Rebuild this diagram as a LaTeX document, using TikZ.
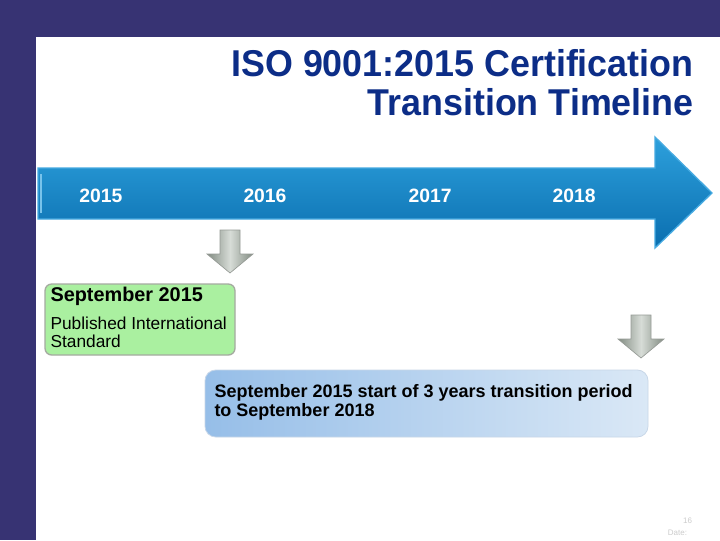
\documentclass[tikz,border=0pt]{standalone}
\usepackage{fontspec}
\setmainfont{Liberation Sans}
\definecolor{framePurple}{RGB}{55,51,115}
\definecolor{titleBlue}{RGB}{12,45,135}
\definecolor{barTop}{RGB}{45,160,220}
\definecolor{barBot}{RGB}{10,110,175}
\definecolor{stepGreen}{RGB}{170,240,160}
\definecolor{boxBlueL}{RGB}{150,190,232}
\definecolor{boxBlueR}{RGB}{218,232,246}
\tikzset{every picture/.style={line width=0.75pt}}
\tikzset{
  year/.style={text=white,font=\bfseries\fontsize{14.5}{16}\selectfont},
  titleline/.style={anchor=base east,inner sep=0pt,text=titleBlue,font=\bfseries\fontsize{28}{30}\selectfont},
  downarrow/.style={draw={rgb,255:red,150;green,155;blue,150},line width=0.5pt,
    left color={rgb,255:red,130;green,140;blue,130},right color={rgb,255:red,130;green,140;blue,130},
    middle color={rgb,255:red,215;green,220;blue,215}}
}

\begin{document}
\begin{tikzpicture}[x=0.75pt,y=0.75pt,yscale=-1,xscale=1]
\useasboundingbox (0,0) rectangle (720,540);

%Shape: Frame
\fill [framePurple] (0,0) rectangle (720,540);
\fill [white] (36,37) rectangle (720,540);

% Text Node
\draw (694,76) node [titleline] (title1) {\scalebox{0.96}[1]{ISO 9001:2015 Certification}};
% Text Node
\draw (694,115) node [titleline] (title2) {\scalebox{0.96}[1]{Transition Timeline}};

%Shape: Timeline Arrow
\draw [draw={rgb,255:red,70;green,170;blue,225},line width=1pt,top color=barTop,bottom color=barBot]
  (38,168) -- (655,168) -- (655,137) -- (712,193) -- (655,248) -- (655,219) -- (38,219) -- cycle ;
\draw [draw={rgb,255:red,120;green,195;blue,235},line width=1pt] (41,174) -- (41,213) ;

% Text Node
\draw (101,196) node [year] (yr2015) {2015};
% Text Node
\draw (265,196) node [year] (yr2016) {2016};
% Text Node
\draw (430,196) node [year] (yr2017) {2017};
% Text Node
\draw (574,196) node [year] (yr2018) {2018};

%Shape: Down Arrow
\draw [downarrow] (220,230) -- (240,230) -- (240,254) -- (253,254) -- (230,273) -- (207,254) -- (220,254) -- cycle ;
%Shape: Down Arrow
\draw [downarrow] (631,315) -- (651,315) -- (651,339) -- (664,339) -- (641,358) -- (618,339) -- (631,339) -- cycle ;

%Shape: Rounded Rect
\draw [draw={rgb,255:red,165;green,170;blue,160},line width=1pt,fill=stepGreen,rounded corners=5] (45,284) rectangle (235,355) ;
% Text Node
\draw (50,296) node [anchor=west,inner sep=0pt,font=\bfseries\fontsize{14.9}{16}\selectfont] (pubHead) {September 2015};
% Text Node
\draw (50,332) node [anchor=west,inner sep=0pt,align=left,font=\fontsize{13}{13.5}\selectfont] (pubText) {Published International\\Standard};

%Shape: Rounded Rect
\draw [draw={rgb,255:red,200;green,215;blue,232},line width=0.6pt,left color=boxBlueL,right color=boxBlueR,rounded corners=8] (205,370) rectangle (648,437) ;
% Text Node
\draw (214,402) node [anchor=west,inner sep=0pt,align=left,font=\bfseries\fontsize{13.5}{14.3}\selectfont] (transText) {September 2015 start of 3 years transition period\\to September 2018};

% Text Node
\draw (697,521) node [anchor=east,text=black!20,font=\fontsize{6}{7}\selectfont] (pageNo) {16};
% Text Node
\draw (692,533) node [anchor=east,text=black!20,font=\fontsize{6}{7}\selectfont] (dateLbl) {Date:};

\end{tikzpicture}
\end{document}
